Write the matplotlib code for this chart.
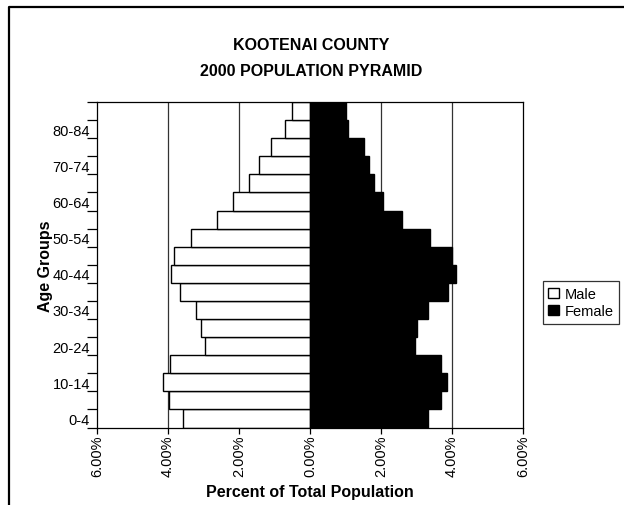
import matplotlib
matplotlib.use("Agg")
import matplotlib.pyplot as plt
from matplotlib.lines import Line2D
from matplotlib.patches import Patch
from matplotlib.ticker import FuncFormatter, FixedLocator
import numpy as np

plt.rcParams['font.family'] = ['Liberation Sans', 'DejaVu Sans']

age_groups = ["0-4", "5-9", "10-14", "15-19", "20-24", "25-29", "30-34", "35-39",
              "40-44", "45-49", "50-54", "55-59", "60-64", "65-69", "70-74",
              "75-79", "80-84", "85+"]
male_pct = [3.58, 3.96, 4.14, 3.94, 2.95, 3.08, 3.22, 3.66, 3.91, 3.84,
            3.35, 2.62, 2.16, 1.72, 1.45, 1.10, 0.71, 0.52]
female_pct = [3.33, 3.69, 3.86, 3.69, 2.95, 3.00, 3.33, 3.90, 4.12, 4.01,
              3.39, 2.60, 2.07, 1.80, 1.67, 1.52, 1.07, 1.00]
x_ticks = [-6, -4, -2, 0, 2, 4, 6]

fig = plt.figure(figsize=(6.24, 5.06), dpi=100)
ax = fig.add_axes([97 / 624, 1 - 428.5 / 506, (523 - 97) / 624, (428.5 - 103) / 506])

y = np.arange(len(age_groups))
ax.barh(y, [-v for v in male_pct], height=1.0, color='white', edgecolor='black',
        linewidth=1.0, zorder=2, label='Male')
ax.barh(y, female_pct, height=1.0, color='black', edgecolor='black',
        linewidth=1.0, zorder=2, label='Female')

for gx in [-4, -2, 2, 4]:
    ax.axvline(gx, color='#333333', linewidth=0.9, zorder=1)

ax.set_xlim(-6, 6)
ax.set_ylim(-0.5, len(age_groups) - 0.5)

ax.xaxis.set_major_locator(FixedLocator(x_ticks))
ax.xaxis.set_major_formatter(FuncFormatter(lambda v, p: f"{abs(v):.2f}%"))
ax.tick_params(axis='x', direction='out', length=4, width=0.9, labelsize=10.5,
               labelrotation=90, pad=1)

# tick marks between categories, labels on every other category
ax.yaxis.set_major_locator(FixedLocator(np.arange(-0.5, len(age_groups), 1.0)))
ax.yaxis.set_major_formatter(FuncFormatter(lambda v, p: ""))
ax.yaxis.set_minor_locator(FixedLocator(y[::2]))
ax.yaxis.set_minor_formatter(FuncFormatter(lambda v, p: age_groups[int(round(v))]))
ax.tick_params(axis='y', which='major', direction='out', length=7, width=0.9)
ax.tick_params(axis='y', which='minor', length=0, labelsize=10.5, pad=5)

for s in ax.spines.values():
    s.set_linewidth(0.9)
    s.set_color('black')

ax.set_xlabel("Percent of Total Population", fontsize=11.5, fontweight='bold', labelpad=6)
ax.set_ylabel("Age Groups", fontsize=11.5, fontweight='bold', labelpad=0)

fig.text(311 / 624, 1 - 45 / 506, "KOOTENAI COUNTY", ha='center', va='center',
         fontsize=11.5, fontweight='bold')
fig.text(311 / 624, 1 - 72 / 506, "2000 POPULATION PYRAMID", ha='center', va='center',
         fontsize=11.5, fontweight='bold')

handles = [Patch(facecolor='white', edgecolor='black', linewidth=1.0, label='Male'),
           Patch(facecolor='black', edgecolor='black', linewidth=1.0, label='Female')]
leg = fig.legend(handles=handles, loc='upper left',
                 bbox_to_anchor=(542.5 / 624, 1 - 282 / 506),
                 fontsize=10.5, frameon=True, fancybox=False, handlelength=0.7,
                 handleheight=0.7, handletextpad=0.4, borderpad=0.4,
                 labelspacing=0.25, borderaxespad=0)
leg.get_frame().set_edgecolor('black')
leg.get_frame().set_linewidth(0.9)

# outer chart frame
fx = 9 / 624
fy = 1 - 8 / 506
fig.add_artist(Line2D([fx, fx, 1.0], [0.0, fy, fy], transform=fig.transFigure,
                      color='black', linewidth=1.6))

fig.savefig("out.png", dpi=100)
